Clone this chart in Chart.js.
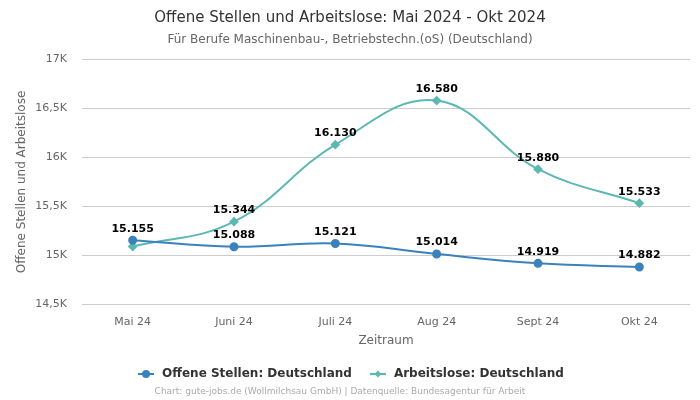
<!DOCTYPE html>
<html>
<head>
<meta charset="utf-8">
<script src="https://cdn.jsdelivr.net/npm/chart.js@4.4.0/dist/chart.umd.min.js"></script>
<style>
  html, body { margin: 0; padding: 0; background: #fff; }
  #wrap { width: 700px; height: 400px; }
</style>
</head>
<body>
<div id="wrap"><canvas id="myChart" width="700" height="400"></canvas></div>
<script>
'use strict';

let months = ['Mai 24', 'Juni 24', 'Juli 24', 'Aug 24', 'Sept 24', 'Okt 24'];
let offeneStellen = [15155, 15088, 15121, 15014, 14919, 14882];
let arbeitslose = [15090, 15344, 16130, 16580, 15880, 15533];
let yTicks = [14500, 15000, 15500, 16000, 16500, 17000];

let blue = '#3b82bd';
let teal = '#5bb8b2';
let fontName = '"DejaVu Sans", Verdana, sans-serif';

// small legend icon: line with a marker in the middle
function legendIcon(color, diamond) {
  let c = document.createElement('canvas');
  c.width = 16;
  c.height = 10;
  let ctx = c.getContext('2d');
  ctx.strokeStyle = color;
  ctx.fillStyle = color;
  ctx.lineWidth = 2;
  ctx.beginPath();
  ctx.moveTo(0, 5);
  ctx.lineTo(16, 5);
  ctx.stroke();
  ctx.beginPath();
  if (diamond) {
    ctx.moveTo(8, 1.5);
    ctx.lineTo(11.5, 5);
    ctx.lineTo(8, 8.5);
    ctx.lineTo(4.5, 5);
  } else {
    ctx.arc(8, 5, 4, 0, Math.PI * 2);
  }
  ctx.fill();
  return c;
}

// value labels above the points
let valueLabels = {
  id: 'valueLabels',
  afterDatasetsDraw(chart) {
    let ctx = chart.ctx;
    ctx.save();
    ctx.font = 'bold 11px ' + fontName;
    ctx.fillStyle = '#000';
    ctx.textAlign = 'center';
    ctx.textBaseline = 'bottom';
    chart.data.datasets.forEach(function (ds, di) {
      let meta = chart.getDatasetMeta(di);
      meta.data.forEach(function (pt, i) {
        if (di === 1 && i === 0) {
          return; // hidden in the original (overlaps)
        }
        ctx.fillText(ds.data[i].toLocaleString('de-DE'), pt.x, pt.y - 6);
      });
    });
    ctx.restore();
  }
};

// y axis title and footer credit line
let extraText = {
  id: 'extraText',
  afterDraw(chart) {
    let ctx = chart.ctx;
    let area = chart.chartArea;
    ctx.save();
    ctx.font = '9px ' + fontName;
    ctx.fillStyle = '#aaa';
    ctx.textAlign = 'center';
    ctx.textBaseline = 'middle';
    ctx.fillText('Chart: gute-jobs.de (Wollmilchsau GmbH) | Datenquelle: Bundesagentur für Arbeit', 340, 392);

    ctx.translate(22, (area.top + area.bottom) / 2);
    ctx.rotate(-Math.PI / 2);
    ctx.font = '12px ' + fontName;
    ctx.fillStyle = '#666';
    ctx.fillText('Offene Stellen und Arbeitslose', 0, 0);
    ctx.restore();
  }
};

const chartConfig = {
  type: 'line',
  data: {
    labels: months,
    datasets: [{
      label: 'Offene Stellen: Deutschland',
      data: offeneStellen,
      borderColor: blue,
      backgroundColor: blue,
      borderWidth: 2,
      pointStyle: 'circle',
      pointRadius: 3.5,
      pointHoverRadius: 3.5,
      tension: 0.4
    },
    {
      label: 'Arbeitslose: Deutschland',
      data: arbeitslose,
      borderColor: teal,
      backgroundColor: teal,
      borderWidth: 2,
      pointStyle: 'rectRot',
      pointRadius: 3.5,
      pointHoverRadius: 3.5,
      tension: 0.4
    }]
  },
  options: {
    responsive: false,
    animation: false,
    layout: {
      padding: { left: 10, right: 10, top: 0, bottom: 10 }
    },
    plugins: {
      title: {
        display: true,
        text: 'Offene Stellen und Arbeitslose: Mai 2024 - Okt 2024',
        color: '#333',
        font: { family: fontName, size: 15, weight: 'normal' },
        padding: { top: 9, bottom: 6 }
      },
      subtitle: {
        display: true,
        text: 'Für Berufe Maschinenbau-, Betriebstechn.(oS) (Deutschland)',
        color: '#666',
        font: { family: fontName, size: 12, weight: 'normal' },
        padding: { top: 0, bottom: 12 }
      },
      legend: {
        position: 'bottom',
        labels: {
          usePointStyle: true,
          pointStyleWidth: 20,
          color: '#333',
          font: { family: fontName, size: 12, weight: 'bold' },
          padding: 16,
          generateLabels: function (chart) {
            return chart.data.datasets.map(function (ds, i) {
              return {
                text: ds.label,
                pointStyle: legendIcon(ds.borderColor, i === 1),
                fillStyle: ds.borderColor,
                strokeStyle: ds.borderColor,
                lineWidth: 0,
                fontColor: '#333',
                datasetIndex: i
              };
            });
          }
        }
      },
      tooltip: { enabled: false }
    },
    scales: {
      x: {
        offset: true,
        grid: { display: false },
        border: { display: false },
        ticks: { color: '#666', padding: 3, font: { family: fontName, size: 11 } },
        title: {
          display: true,
          text: 'Zeitraum',
          color: '#666',
          font: { family: fontName, size: 12 },
          padding: { top: 2, bottom: 4 }
        }
      },
      y: {
        min: yTicks[0],
        max: yTicks[yTicks.length - 1],
        afterBuildTicks: function (axis) {
          axis.ticks = yTicks.map(function (v) { return { value: v }; });
        },
        afterFit: function (axis) {
          axis.width = 72;
        },
        grid: { color: '#ccc', drawTicks: false },
        border: { display: false },
        ticks: {
          color: '#666',
          padding: 15,
          font: { family: fontName, size: 11 },
          callback: function (v) {
            return String(v / 1000).replace('.', ',') + 'K';
          }
        }
      }
    }
  },
  plugins: [valueLabels, extraText]
};

let canvasChart = document.getElementById('myChart').getContext('2d');
const myChart = new Chart(canvasChart, chartConfig);
</script>
</body>
</html>
